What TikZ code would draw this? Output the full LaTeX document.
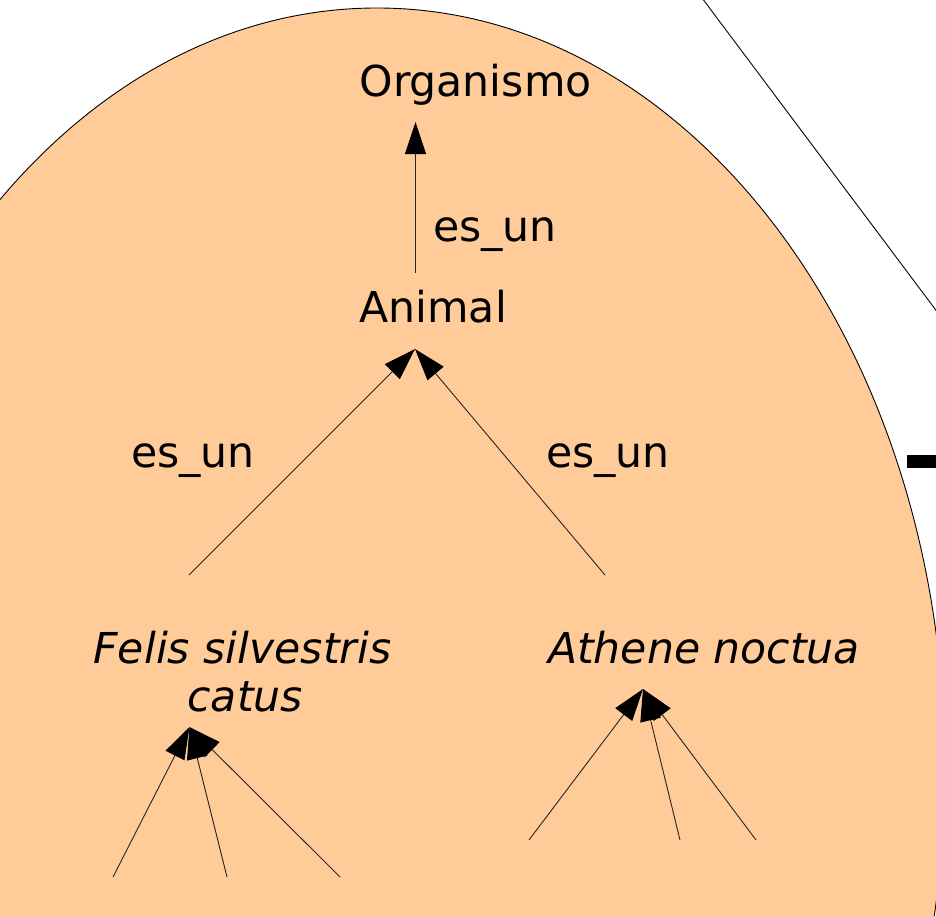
\documentclass[tikz,border=0pt]{standalone}
\usepackage{fontspec}
\setmainfont{DejaVu Sans}
\usetikzlibrary{arrows.meta}
\definecolor{peach}{RGB}{255,204,153}
\tikzset{
  lbl/.style={inner sep=0pt, outer sep=0pt, anchor=base west, font=\fontsize{42.6}{50}\selectfont},
  itlbl/.style={lbl, font=\fontsize{42.6}{50}\selectfont\itshape},
  isa/.style={draw=black!85, line width=0.9pt, -{Triangle[length=32pt,width=21pt,color=black,fill=black]}},
  outline/.style={draw=black, line width=0.9pt}
}
\begin{document}
\begin{tikzpicture}[x=1pt,y=-1pt]
\useasboundingbox (0,0) rectangle (936,915);
\begin{scope}
\clip (0,0) rectangle (936,915);
\fill[white] (0,0) rectangle (936,915);
\draw[outline, fill=peach] (377,768) ellipse [x radius=568, y radius=760];
\coordinate (diagA) at (702,-2);
\coordinate (diagB) at (938,313);
\draw[outline] (diagA) -- (diagB);
\fill[black] (907,455) rectangle (940,468);

% text nodes
\node[lbl] (organismo) at (359.5,97) {Organismo};
\node[lbl] (esun1) at (433,241) {es\_un};
\node[lbl] (animal) at (359.5,322) {Animal};
\node[lbl] (esun2) at (131,467) {es\_un};
\node[lbl] (esun3) at (546,467) {es\_un};
\node[itlbl] (felis) at (93.5,663) {Felis silvestris};
\node[itlbl] (catus) at (187.5,711) {catus};
\node[itlbl] (athene) at (548,663) {Athene noctua};

% connector end points
\coordinate (orgIn) at (415.5,122);
\coordinate (aniOut) at (415.5,273);
\coordinate (aniIn) at (415,349);
\coordinate (felOut) at (189,575);
\coordinate (athOut) at (605,575);
\coordinate (felIn) at (189.5,727);
\coordinate (f1) at (113,877);
\coordinate (f2) at (227,877);
\coordinate (f3) at (340,877);
\coordinate (athIn) at (643,689);
\coordinate (a1) at (529,840);
\coordinate (a2) at (680,840);
\coordinate (a3) at (756,840);

\draw[isa] (aniOut) -- (orgIn);
\draw[isa] (felOut) -- (aniIn);
\draw[isa] (athOut) -- (aniIn);
\draw[isa] (f1) -- (felIn);
\draw[isa] (f2) -- (felIn);
\draw[isa] (f3) -- (felIn);
\draw[isa] (a1) -- (athIn);
\draw[isa] (a2) -- (athIn);
\draw[isa] (a3) -- (athIn);
\end{scope}
\end{tikzpicture}
\end{document}
